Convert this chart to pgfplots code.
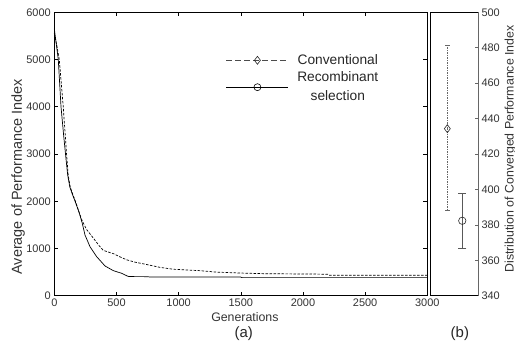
\documentclass[border=0pt]{standalone}
\usepackage{fontspec}
\setmainfont{Liberation Sans}
\usepackage{pgfplots}
\pgfplotsset{compat=1.18}
\begin{document}
\begin{tikzpicture}
\path[use as bounding box] (-54.3bp,-48.3bp) rectangle (460.7bp,295.7bp);
\begin{axis}[
  at={(0bp,0bp)}, anchor=south west, scale only axis,
  width=373bp, height=283.4bp,
  xmin=0, xmax=3000, ymin=0, ymax=6000,
  xtick={0,500,...,3000}, ytick={0,1000,...,6000},
  tick align=inside, major tick length=4bp,
  axis line style={line width=0.6pt},
  tick style={black, line width=0.6pt},
  scaled ticks=false, clip=false,
  /pgf/number format/assume math mode=true,
  /pgf/number format/1000 sep={},
  ticklabel style={font=\fontsize{11}{12}\selectfont, text=black!80},
  xlabel={Generations},
  xlabel style={at={(axis description cs:0.511,-0.074)}, anchor=center, font=\fontsize{12.4}{14}\selectfont, text=black!80},
  ylabel={Average of Performance Index},
  ylabel style={at={(axis description cs:-0.097,0.42)}, anchor=center, font=\fontsize{14.5}{16}\selectfont, text=black!80},
  legend style={draw=none, fill=none, at={(axis description cs:0.452,0.864)}, anchor=north west,
    nodes={align=center, font=\fontsize{13.8}{19}\selectfont, text=black!85, inner sep=1.5bp},
    row sep=3bp, column sep=7bp},
  legend image code/.code={\draw[mark repeat=2, mark phase=2] plot coordinates {(0bp,0bp) (31bp,0bp) (62bp,0bp)};},
]
\addlegendimage{black!70, dash pattern=on 5.5bp off 3.5bp, line width=0.7pt, mark=diamond, mark size=4bp, mark options={solid, fill=white, line width=0.6pt, black!85}}
\addlegendentry{Conventional}
\addlegendimage{black, line width=0.7pt, mark=o, mark size=3.5bp, mark options={solid, line width=0.6pt}}
\addlegendentry{Recombinant\\selection}
\addplot[black, line width=0.7pt, dash pattern=on 2.5bp off 1.5bp, forget plot] coordinates {
(0,5550) (20,5300) (40,5000) (72,4000) (88,3400) (100,2950) (112,2550) (128,2300) (148,2150)
(170,2000) (200,1760) (225,1580) (260,1400) (314,1220) (360,1060) (394,960) (475,890) (530,820)
(582,760) (650,710) (743,660) (850,600) (957,560) (1172,530) (1300,500) (1494,480)
(1700,465) (2000,460) (2200,455) (2210,435) (3000,435)};
\addplot[black, line width=0.7pt, forget plot] coordinates {
(0,5650) (15,5350) (32,5000) (54,4000) (75,3400) (92,2950) (108,2550) (125,2300) (145,2150)
(167,2000) (200,1760) (225,1533) (247,1285)
(287,1038) (341,826) (408,629) (475,530) (542,474) (587,417) (600,405) (743,403)
(770,396) (1500,394) (1510,383) (3000,383)};
\draw[line width=1.5pt] (rel axis cs:0,1) -- (rel axis cs:0,0) -- (rel axis cs:1,0);
\node[font=\fontsize{15}{17}\selectfont, text=black!85] at (axis description cs:0.508,-0.133) {(a)};
\end{axis}
\begin{axis}[
  at={(376bp,0bp)}, anchor=south west, scale only axis,
  width=47.7bp, height=283.4bp,
  xmin=0, xmax=3, ymin=340, ymax=500,
  xtick=\empty, ytick={340,360,...,500},
  ytick pos=right, yticklabel pos=right,
  tick align=inside, major tick length=3bp,
  axis line style={black!60, line width=0.6pt},
  tick style={black!60, line width=0.6pt},
  /pgf/number format/assume math mode=true,
  ticklabel style={font=\fontsize{11}{12}\selectfont, text=black!80},
  ylabel={Distribution of Converged Performance Index},
  ylabel style={at={(axis description cs:1.68,0.518)}, anchor=center, font=\fontsize{12.4}{14}\selectfont, text=black!80},
  clip=false,
]
\draw[line width=1.6pt] (rel axis cs:0,0) -- (rel axis cs:0,1);
\draw[line width=0.6pt] (rel axis cs:0,1) -- (rel axis cs:1,1);
\draw[line width=0.6pt] (rel axis cs:0,0) -- (rel axis cs:1,0);
\addplot[only marks, mark=diamond, mark size=4bp, mark options={black!85, fill=white, line width=0.6pt, solid},
  error bars/.cd, y dir=both, y explicit,
  error bar style={black!60, line width=0.6pt, dash pattern=on 1.5bp off 1bp},
  error mark options={rotate=90, mark size=2.3bp, black!60, solid, line width=0.6pt}]
  coordinates {(1.07,434.3) += (0,47.2) -= (0,45.9)};
\addplot[only marks, mark=o, mark size=3.7bp, mark options={black!85, line width=0.6pt},
  error bars/.cd, y dir=both, y explicit,
  error bar style={black!65, line width=0.8pt},
  error mark options={rotate=90, mark size=4bp, black!65, line width=0.8pt}]
  coordinates {(2.01,382.3) += (0,15.5) -= (0,15.6)};
\node[font=\fontsize{15}{17}\selectfont, text=black!85] at (axis description cs:0.62,-0.133) {(b)};
\end{axis}
\end{tikzpicture}
\end{document}
